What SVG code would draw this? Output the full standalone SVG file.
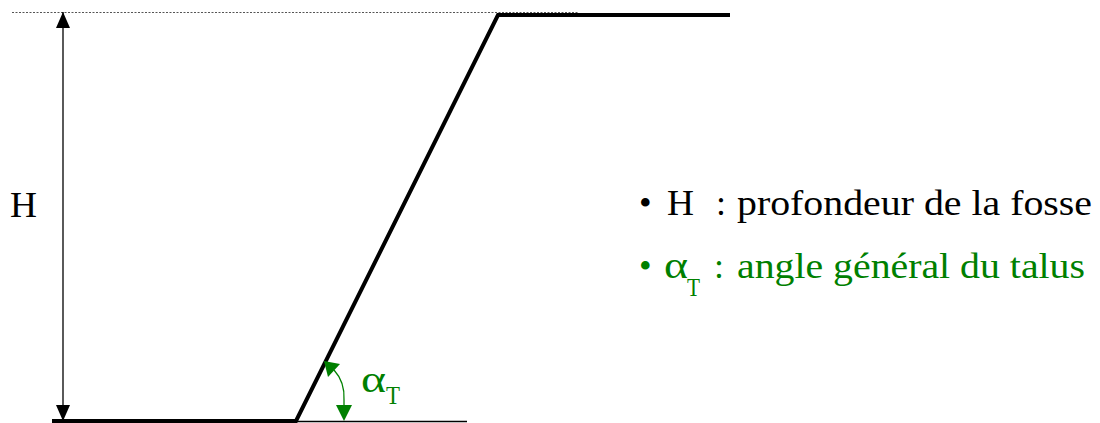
<svg xmlns="http://www.w3.org/2000/svg" width="1100" height="423" viewBox="0 0 1100 423">
<style>
text{font-family:'Liberation Serif','DejaVu Serif',serif;font-size:36px;fill:#000}
.g{fill:#008000}
.thick{stroke:#000;stroke-width:4;fill:none;stroke-linejoin:miter}
.thin{stroke:#000;stroke-width:1.3;fill:none}
</style>
<defs>
<marker id="ah" viewBox="0 0 16 14" refX="16" refY="7" markerWidth="16" markerHeight="14" markerUnits="userSpaceOnUse" orient="auto-start-reverse">
<path d="M0,0 L16,7 L0,14 Z" fill="#000"/>
</marker>
</defs>
<rect width="1100" height="423" fill="#fff"/>
<g id="ground">
<line x1="12" y1="12.5" x2="578" y2="12.5" stroke="#555" stroke-width="1" stroke-dasharray="2,1.5"/>
<polyline class="thick" points="52,421 296,421 498,15 730,15"/>
<line x1="296" y1="421.5" x2="467" y2="421.5" stroke="#000" stroke-width="1.3"/>
</g>
<g id="connectors">
<line class="thin" x1="63" y1="12" x2="63" y2="421" marker-start="url(#ah)" marker-end="url(#ah)"/>
<path d="M334,370 Q345,382 344,400 L344,406" fill="none" stroke="#008000" stroke-width="1.3"/>
<polygon points="324,361 340,364 328,377" fill="#008000"/>
<polygon points="336,405 352,405 344,421" fill="#008000"/>
</g>
<g id="label-H">
<text x="10" y="217" textLength="27" lengthAdjust="spacingAndGlyphs">H</text>
</g>
<g id="label-alpha">
<text class="g" x="361" y="392" textLength="25" lengthAdjust="spacingAndGlyphs" style="font-size:38px">α</text>
<text class="g" x="386" y="404" textLength="14" lengthAdjust="spacingAndGlyphs" style="font-size:26px">T</text>
</g>
<g id="legend">
<text x="639" y="215">•</text>
<text x="667" y="215" textLength="27" lengthAdjust="spacingAndGlyphs">H</text>
<text x="716" y="215">:</text>
<text x="737" y="215" textLength="355" lengthAdjust="spacingAndGlyphs">profondeur de la fosse</text>
<text class="g" x="639" y="278">•</text>
<text class="g" x="664" y="278" textLength="24" lengthAdjust="spacingAndGlyphs" style="font-size:38px">α</text>
<text class="g" x="687" y="296" textLength="13" lengthAdjust="spacingAndGlyphs" style="font-size:26px">T</text>
<text class="g" x="714" y="278">:</text>
<text class="g" x="737" y="278" textLength="348" lengthAdjust="spacingAndGlyphs">angle général du talus</text>
</g>
</svg>
